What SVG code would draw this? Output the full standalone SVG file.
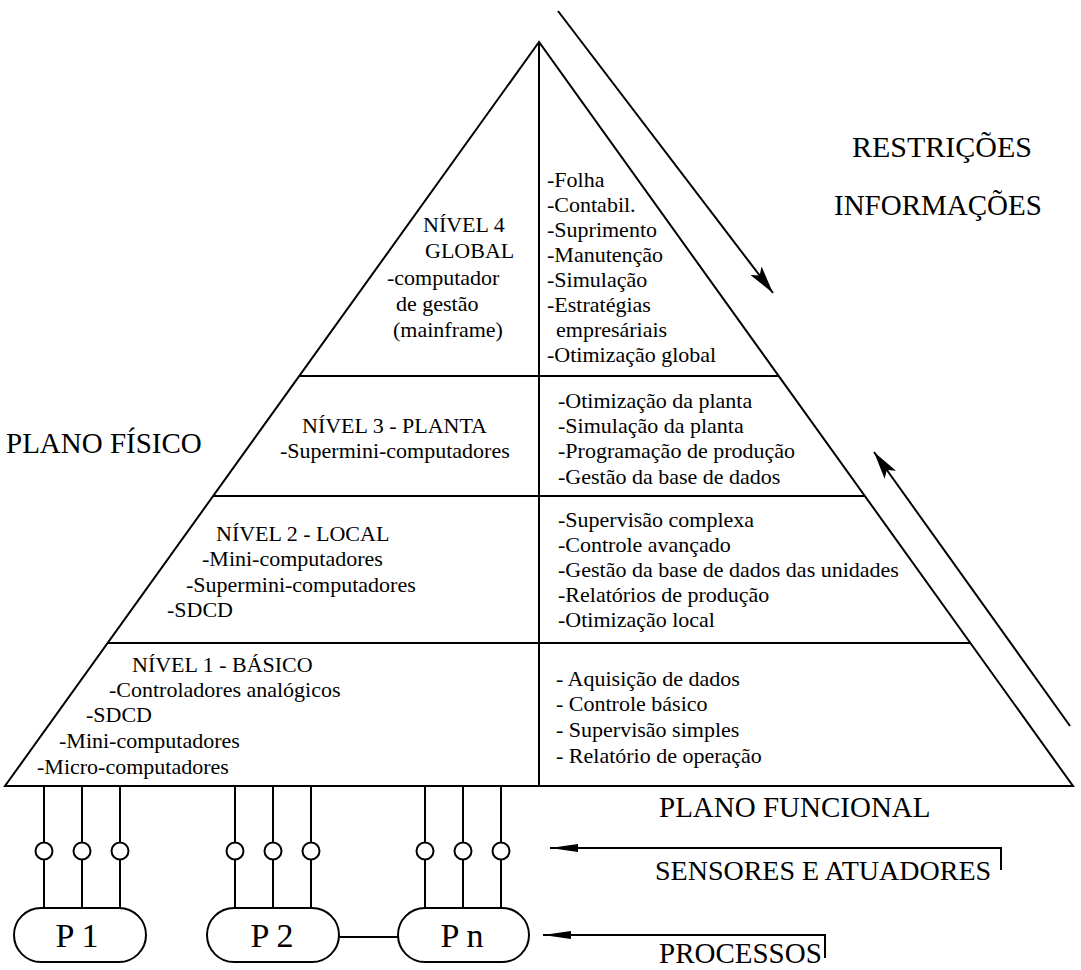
<svg xmlns="http://www.w3.org/2000/svg" width="1081" height="970" viewBox="0 0 1081 970">
<style>
.ln{stroke:#000;stroke-width:2;fill:none}
.t{font-family:"Liberation Serif","Times New Roman",serif;font-size:22px;fill:#000}
.big{font-family:"Liberation Serif","Times New Roman",serif;font-size:29px;fill:#000}
.p{font-family:"Liberation Serif","Times New Roman",serif;font-size:34px;fill:#000;text-anchor:middle}
</style>
<defs>
<marker id="ah" markerUnits="userSpaceOnUse" markerWidth="30" markerHeight="14" refX="28" refY="7" orient="auto">
<path d="M0,0 L28,7 L0,14 L6,7 Z" fill="#000"/>
</marker>
<marker id="ahs" markerUnits="userSpaceOnUse" markerWidth="30" markerHeight="10" refX="28" refY="5" orient="auto">
<path d="M0,1 L28,5 L0,9 Z" fill="#000"/>
</marker>
</defs>
<rect width="1081" height="970" fill="#fff"/>

<g id="pyramid">
<path class="ln" d="M539,42 L5,786 L1073,786 Z"/>
<line class="ln" x1="539" y1="42" x2="539" y2="786"/>
<line class="ln" x1="300" y1="376" x2="778" y2="376"/>
<line class="ln" x1="213" y1="496" x2="864" y2="496"/>
<line class="ln" x1="108" y1="643" x2="970" y2="643"/>
</g>

<g id="nivel4">
<text class="t" x="423" y="232">NÍVEL 4</text>
<text class="t" x="425" y="258">GLOBAL</text>
<text class="t" x="387" y="285">-computador</text>
<text class="t" x="396" y="311">de gestão</text>
<text class="t" x="393" y="337">(mainframe)</text>
<text class="t" x="547" y="187">-Folha</text>
<text class="t" x="547" y="212">-Contabil.</text>
<text class="t" x="547" y="237">-Suprimento</text>
<text class="t" x="547" y="262">-Manutenção</text>
<text class="t" x="547" y="287">-Simulação</text>
<text class="t" x="547" y="312">-Estratégias</text>
<text class="t" x="556" y="337">empresáriais</text>
<text class="t" x="547" y="362">-Otimização global</text>
</g>

<g id="nivel3">
<text class="t" x="302" y="433">NÍVEL 3 - PLANTA</text>
<text class="t" x="280" y="458">-Supermini-computadores</text>
<text class="t" x="558" y="408">-Otimização da planta</text>
<text class="t" x="558" y="433">-Simulação da planta</text>
<text class="t" x="558" y="458">-Programação de produção</text>
<text class="t" x="558" y="484">-Gestão da base de dados</text>
</g>

<g id="nivel2">
<text class="t" x="216" y="541">NÍVEL 2 - LOCAL</text>
<text class="t" x="202" y="566">-Mini-computadores</text>
<text class="t" x="186" y="592">-Supermini-computadores</text>
<text class="t" x="167" y="617">-SDCD</text>
<text class="t" x="558" y="527">-Supervisão complexa</text>
<text class="t" x="558" y="552">-Controle avançado</text>
<text class="t" x="558" y="577">-Gestão da base de dados das unidades</text>
<text class="t" x="558" y="602">-Relatórios de produção</text>
<text class="t" x="558" y="627">-Otimização local</text>
</g>

<g id="nivel1">
<text class="t" x="132" y="672">NÍVEL 1 - BÁSICO</text>
<text class="t" x="109" y="697">-Controladores analógicos</text>
<text class="t" x="86" y="722">-SDCD</text>
<text class="t" x="59" y="748">-Mini-computadores</text>
<text class="t" x="37" y="774">-Micro-computadores</text>
<text class="t" x="556" y="686">- Aquisição de dados</text>
<text class="t" x="556" y="711">- Controle básico</text>
<text class="t" x="556" y="737">- Supervisão simples</text>
<text class="t" x="556" y="763">- Relatório de operação</text>
</g>

<g id="labels">
<text class="big" x="852" y="157" style="font-size:30px">RESTRIÇÕES</text>
<text class="big" x="834" y="215">INFORMAÇÕES</text>
<text class="big" x="6" y="453">PLANO FÍSICO</text>
<text class="big" x="659" y="817">PLANO FUNCIONAL</text>
<text class="big" x="655" y="880" style="font-size:28px">SENSORES E ATUADORES</text>
<text class="big" x="659" y="963">PROCESSOS</text>
</g>

<g id="sensors">
<circle class="ln" cx="44" cy="851" r="8.5"/>
<circle class="ln" cx="82" cy="851" r="8.5"/>
<circle class="ln" cx="120" cy="851" r="8.5"/>
<circle class="ln" cx="235" cy="851" r="8.5"/>
<circle class="ln" cx="273" cy="851" r="8.5"/>
<circle class="ln" cx="311" cy="851" r="8.5"/>
<circle class="ln" cx="425" cy="851" r="8.5"/>
<circle class="ln" cx="463" cy="851" r="8.5"/>
<circle class="ln" cx="501" cy="851" r="8.5"/>
</g>

<g id="P1">
<rect class="ln" x="14" y="908" width="132" height="54" rx="27"/>
<text class="p" x="77" y="947">P 1</text>
</g>
<g id="P2">
<rect class="ln" x="207" y="908" width="132" height="54" rx="27"/>
<text class="p" x="272" y="947">P 2</text>
</g>
<g id="Pn">
<rect class="ln" x="398" y="908" width="131" height="54" rx="27"/>
<text class="p" x="462" y="947">P n</text>
</g>

<g id="connectors">
<path class="ln" d="M44,786V842.5M44,859.5V908M82,786V842.5M82,859.5V908M120,786V842.5M120,859.5V908"/>
<path class="ln" d="M235,786V842.5M235,859.5V908M273,786V842.5M273,859.5V908M311,786V842.5M311,859.5V908"/>
<path class="ln" d="M425,786V842.5M425,859.5V908M463,786V842.5M463,859.5V908M501,786V842.5M501,859.5V908"/>
<line class="ln" x1="339" y1="937" x2="398" y2="937"/>
<line class="ln" x1="558" y1="11" x2="773" y2="293" marker-end="url(#ah)"/>
<line class="ln" x1="1070" y1="726" x2="874" y2="452" marker-end="url(#ah)"/>
<polyline class="ln" points="1001,870 1001,848 550,848" marker-end="url(#ahs)"/>
<polyline class="ln" points="825,958 825,935 543,935" marker-end="url(#ahs)"/>
</g>
</svg>
